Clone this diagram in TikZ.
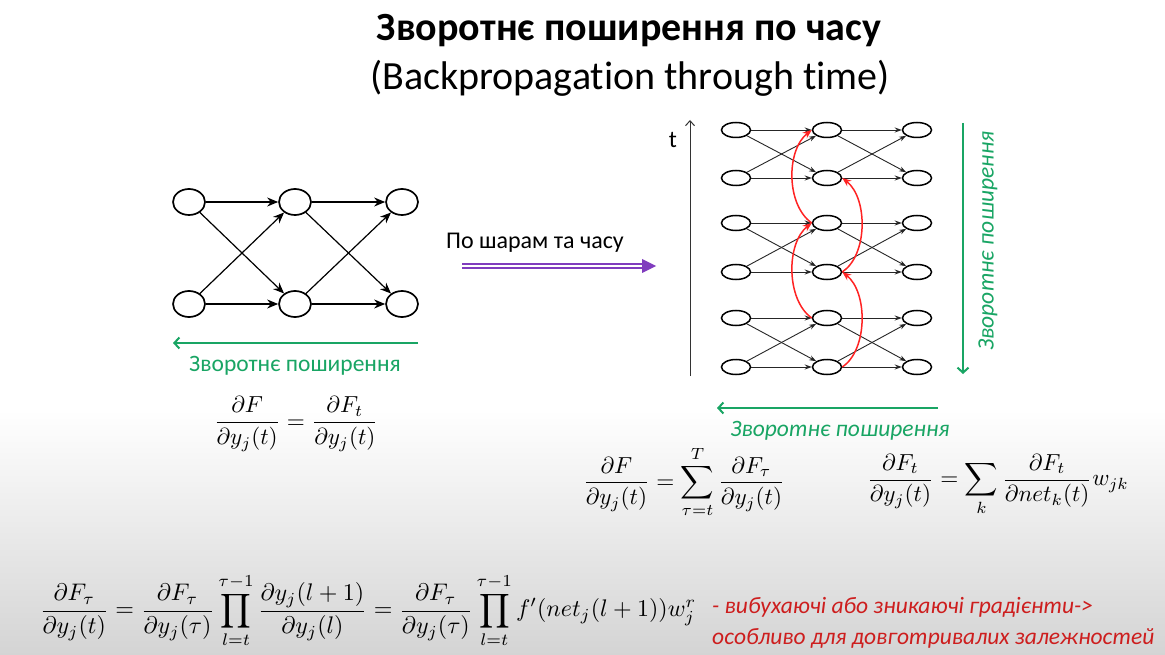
\documentclass[tikz,border=0pt]{standalone}
\usepackage{fontspec}
\setmainfont{Carlito}[Ligatures=NoCommon]
\usetikzlibrary{shapes.geometric,arrows.meta}
\definecolor{grn}{RGB}{25,165,100}
\definecolor{prp}{RGB}{128,60,190}
\definecolor{rd}{RGB}{255,35,35}
\definecolor{dred}{RGB}{205,30,30}
\definecolor{bggray}{RGB}{212,212,212}
\newcommand{\bigmath}[2][2.32]{\scalebox{#1}{$\displaystyle #2$}}
\begin{document}
\begin{tikzpicture}[x=1pt,y=-1pt,
  bigneuron/.style={ellipse,draw,line width=1.7pt,minimum width=32pt,minimum height=26pt,inner sep=0pt},
  smallneuron/.style={ellipse,draw,line width=1.5pt,minimum width=29pt,minimum height=15pt,inner sep=0pt},
  bigedge/.style={-{Stealth[length=11pt,width=9pt]},line width=1.2pt},
  smalledge/.style={-{Stealth[length=7pt,width=5pt]},line width=0.9pt,draw=black!85},
  redarc/.style={-{Stealth[length=9pt,width=7pt]},line width=1.5pt,draw=rd},
  grnarrow/.style={-{Straight Barb[length=5pt,width=11pt]},line width=2pt,draw=grn},
  lbl/.style={font=\fontsize{23.5}{28}\selectfont,inner sep=0pt},
  mth/.style={inner sep=0pt}
]
\useasboundingbox (0,0) rectangle (1165,655);
\fill[white] (0,0) rectangle (1165,410);
\shade[top color=white,bottom color=bggray] (0,410) rectangle (1165,655);

% title
\node[inner sep=0pt] (title) at (629,31) {\fontsize{40}{46}\selectfont\bfseries Зворотнє поширення по часу};
\node[inner sep=0pt] (sub) at (630,78) {\fontsize{40}{46}\selectfont (Backpropagation through time)};

% left network
\node[bigneuron] (a1) at (189,202) {};
\node[bigneuron] (a2) at (189,304) {};
\node[bigneuron] (b1) at (295,202) {};
\node[bigneuron] (b2) at (295,304) {};
\node[bigneuron] (c1) at (402,202) {};
\node[bigneuron] (c2) at (402,304) {};
\foreach \p/\q in {a/b,b/c}{
  \draw[bigedge] (\p1) -- (\q1);
  \draw[bigedge] (\p1) -- (\q2);
  \draw[bigedge] (\p2) -- (\q1);
  \draw[bigedge] (\p2) -- (\q2);
}
\coordinate (gls) at (418,343);
\coordinate (gle) at (173,343);
\draw[grnarrow] (gls) -- (gle);
\node[lbl,text=grn] (gl) at (295,366) {Зворотнє поширення};
\node[mth] (f1) at (296,424) {\bigmath{\frac{\partial F}{\partial y_j(t)}=\frac{\partial F_t}{\partial y_j(t)}}};

% middle arrow
\node[lbl,font=\fontsize{24}{28}\selectfont] (pl) at (535,243) {По шарам та часу};
\coordinate (pa) at (462,266);
\coordinate (pb) at (643,266);
\draw[prp,line width=1.5pt,double=white,double distance=2.2pt] (pa) -- (pb);
\fill[prp] (pb) ++(-1,-7) -- ++(14,7) -- ++(-14,7) -- cycle;

% right network
\foreach \i/\y in {1/130,2/178,3/223,4/272,5/318,6/367}{
  \node[smallneuron] (l\i) at (736,\y) {};
  \node[smallneuron] (m\i) at (827,\y) {};
  \node[smallneuron] (r\i) at (917,\y) {};
}
\foreach \a/\b in {1/2,3/4,5/6}{
  \foreach \p/\q in {l/m,m/r}{
    \draw[smalledge] (\p\a) -- (\q\a);
    \draw[smalledge] (\p\a) -- (\q\b);
    \draw[smalledge] (\p\b) -- (\q\a);
    \draw[smalledge] (\p\b) -- (\q\b);
  }
}
\draw[redarc] (m3.west) .. controls (786,205) and (786,150) .. (m1.west);
\draw[redarc] (m5.west) .. controls (786,300) and (786,243) .. (m3.west);
\draw[redarc] (m6.east) .. controls (868,350) and (868,292) .. (m4.east);
\draw[redarc] (m4.east) .. controls (868,255) and (868,198) .. (m2.east);

% time axis
\coordinate (t0) at (690,376);
\coordinate (t1) at (690,120);
\draw[-{Straight Barb[length=5pt,width=9pt]},line width=1pt,black!80] (t0) -- (t1);
\node[inner sep=0pt] (tl) at (673,140) {\fontsize{24}{28}\selectfont t};

% green vertical arrow
\coordinate (gvs) at (963,123);
\coordinate (gve) at (963,374);
\draw[grnarrow] (gvs) -- (gve);
\node[lbl,text=grn,rotate=90] (gv) at (988,241) {\itshape Зворотнє поширення};

% green bottom arrow
\coordinate (grs) at (938,408);
\coordinate (gre) at (717,408);
\draw[grnarrow] (grs) -- (gre);
\node[lbl,text=grn] (gr) at (840,431) {\itshape Зворотнє поширення};

% formulas
\node[mth] (f2) at (684,482) {\bigmath{\frac{\partial F}{\partial y_j(t)}=\sum_{\tau=t}^{T}\frac{\partial F_\tau}{\partial y_j(t)}}};
\node[mth] (f3) at (998,485) {\bigmath{\frac{\partial F_t}{\partial y_j(t)}=\sum_k \frac{\partial F_t}{\partial net_k(t)}w_{jk}}};
\node[mth] (f4) at (368,611) {\bigmath[2.4]{\frac{\partial F_\tau}{\partial y_j(t)}=\frac{\partial F_\tau}{\partial y_j(\tau)}\prod_{l=t}^{\tau-1}\frac{\partial y_j(l+1)}{\partial y_j(l)}=\frac{\partial F_\tau}{\partial y_j(\tau)}\prod_{l=t}^{\tau-1}f'(net_j(l+1))w_j^r}};

% red note
\node[anchor=west,align=left,text=dred,font=\fontsize{23.5}{31}\selectfont\itshape,inner sep=0pt] (note) at (712,623) {- вибухаючі або зникаючі градієнти->\\особливо для довготривалих залежностей};
\end{tikzpicture}
\end{document}
